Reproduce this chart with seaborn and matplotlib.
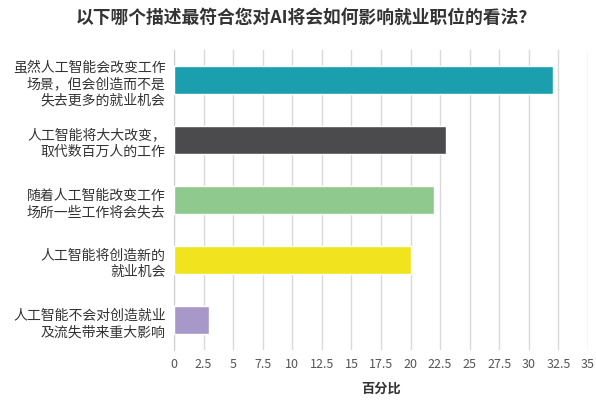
import matplotlib
matplotlib.use("Agg")
import matplotlib.pyplot as plt
import seaborn as sns
import pandas as pd
import numpy as np

# data
categories = [
    "虽然人工智能会改变工作\n场景，但会创造而不是\n失去更多的就业机会",
    "人工智能将大大改变，\n取代数百万人的工作",
    "随着人工智能改变工作\n场所一些工作将会失去",
    "人工智能将创造新的\n就业机会",
    "人工智能不会对创造就业\n及流失带来重大影响",
]
values = [32, 23, 22, 20, 3]
colors = ["#1b9fae", "#4b4b4d", "#8fc98d", "#f1e31e", "#a897c9"]
xticks = np.arange(0, 35.1, 2.5)
xtick_labels = ["0", "2.5", "5", "7.5", "10", "12.5", "15", "17.5", "20",
                "22.5", "25", "27.5", "30", "32.5", "35"]

sns.set_style("white")
plt.rcParams["font.family"] = ["Noto Sans CJK SC", "DejaVu Sans"]

df = pd.DataFrame({"cat": categories, "val": values})

fig = plt.figure(figsize=(5.96, 4.02), dpi=100)
ax = fig.add_axes([174 / 596, 1 - 351 / 402, (588 - 174) / 596, 300 / 402])

sns.barplot(data=df, x="val", y="cat", hue="cat", palette=colors,
            saturation=1, orient="h", width=0.47, legend=False, ax=ax, zorder=3)

ax.set_xlim(0, 35)
ax.set_ylim(4.5, -0.5)
ax.set_xticks(xticks)
ax.set_xticklabels(xtick_labels, fontsize=9, color="#555555")
ax.grid(axis="x", color="#d9d9d9", linewidth=1, zorder=0)
ax.tick_params(axis="x", length=0, pad=5)
ax.tick_params(axis="y", length=0, pad=6)
for lbl in ax.get_yticklabels():
    lbl.set_fontsize(10)
    lbl.set_color("#333333")
    lbl.set_horizontalalignment("right")
    lbl.set_multialignment("right")
    lbl.set_linespacing(1.25)

# small marks between categories on the left axis
ax.set_yticks(np.arange(-0.5, 4.6, 1), minor=True)
ax.tick_params(axis="y", which="minor", length=3, color="#cccccc", direction="in")

for side in ["top", "right", "bottom"]:
    ax.spines[side].set_visible(False)
ax.spines["left"].set_color("#d0d0d0")

ax.set_ylabel("")
ax.set_xlabel("百分比", fontsize=9.5, fontweight="bold", color="#333333", labelpad=8)

fig.suptitle("以下哪个描述最符合您对AI将会如何影响就业职位的看法?",
             x=0.507, y=0.978, fontsize=12.8, fontweight="bold", color="#333333")

fig.savefig("out.png", dpi=100)
